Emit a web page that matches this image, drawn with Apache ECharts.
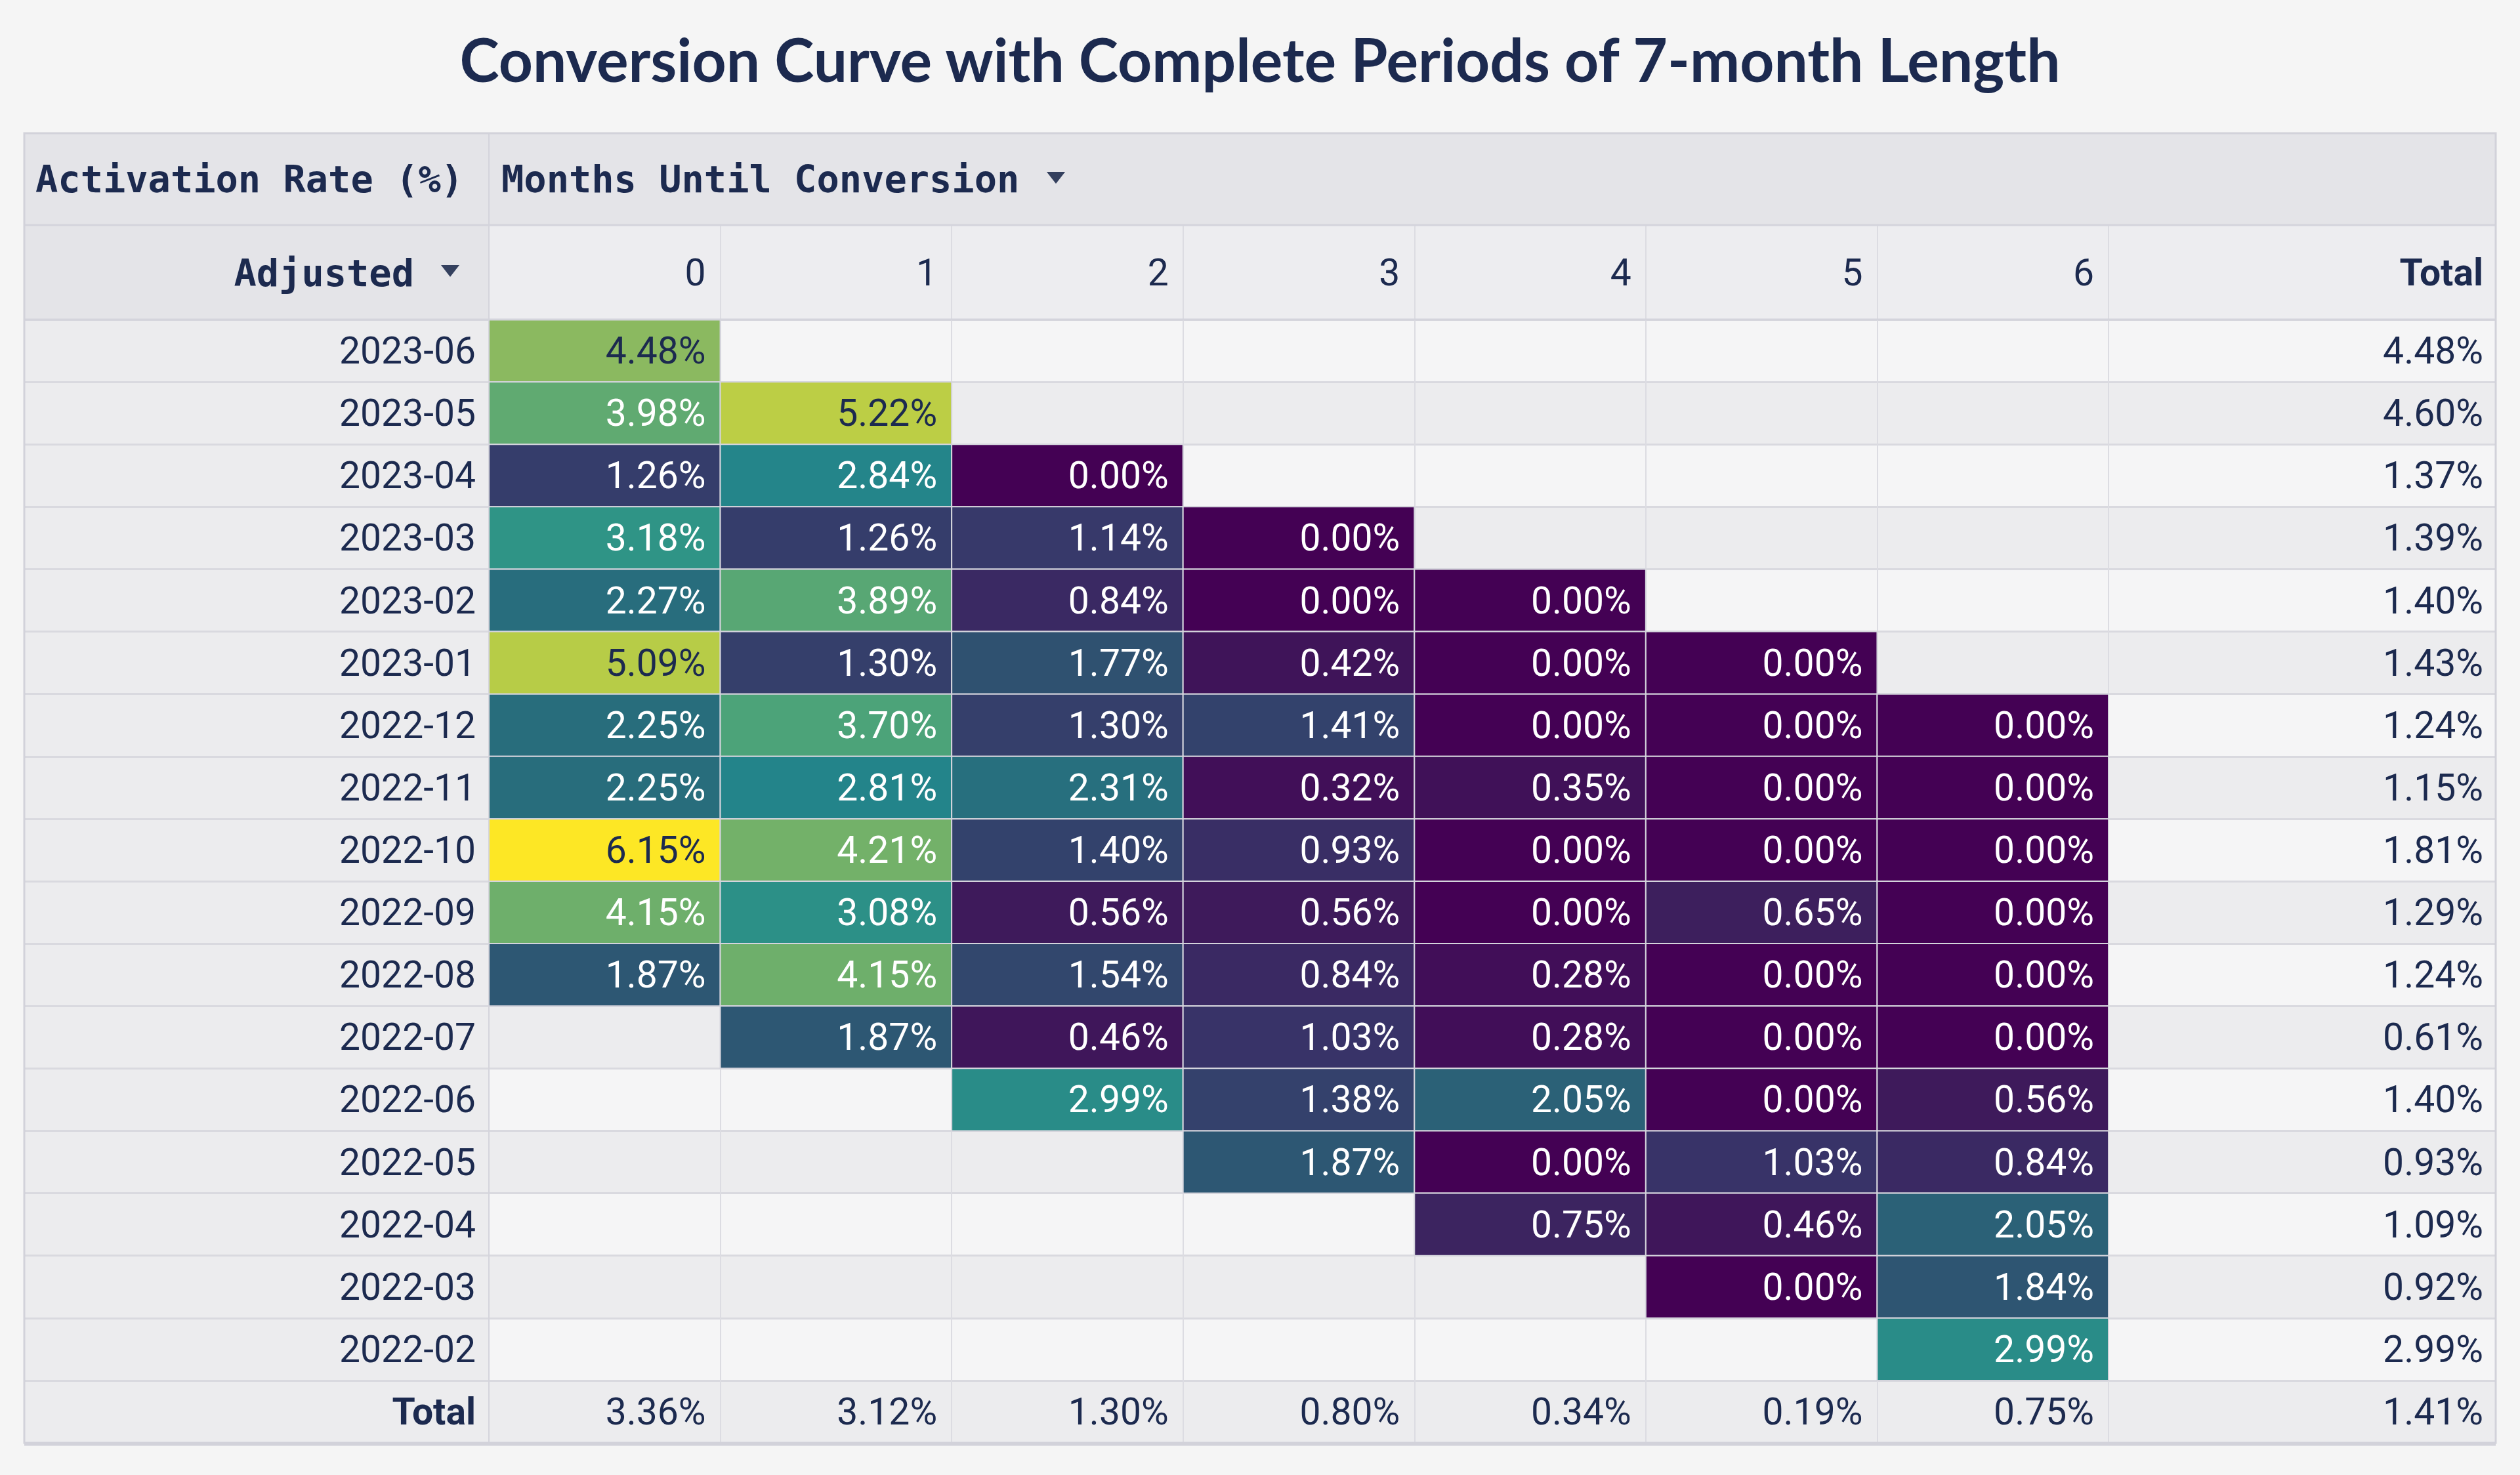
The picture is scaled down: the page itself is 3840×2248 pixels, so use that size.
<!DOCTYPE html>
<html>
<head>
<meta charset="utf-8">
<title>Conversion Curve</title>
<script src="https://cdn.jsdelivr.net/npm/echarts@6/dist/echarts.min.js"></script>
<style>
  html, body { margin: 0; padding: 0; background: #f5f5f5; }
  #chart { width: 3840px; height: 2248px; }
</style>
</head>
<body>
<div id="chart"></div>
<script>
// cohorts, top to bottom
const cohorts = ['2023-06', '2023-05', '2023-04', '2023-03', '2023-02', '2023-01', '2022-12',
  '2022-11', '2022-10', '2022-09', '2022-08', '2022-07', '2022-06', '2022-05', '2022-04',
  '2022-03', '2022-02'];
const months = ['0', '1', '2', '3', '4', '5', '6'];

// activation rate (%) per cohort and month until conversion, null = no cell
const rates = [
  [4.48, null, null, null, null, null, null],
  [3.98, 5.22, null, null, null, null, null],
  [1.26, 2.84, 0.00, null, null, null, null],
  [3.18, 1.26, 1.14, 0.00, null, null, null],
  [2.27, 3.89, 0.84, 0.00, 0.00, null, null],
  [5.09, 1.30, 1.77, 0.42, 0.00, 0.00, null],
  [2.25, 3.70, 1.30, 1.41, 0.00, 0.00, 0.00],
  [2.25, 2.81, 2.31, 0.32, 0.35, 0.00, 0.00],
  [6.15, 4.21, 1.40, 0.93, 0.00, 0.00, 0.00],
  [4.15, 3.08, 0.56, 0.56, 0.00, 0.65, 0.00],
  [1.87, 4.15, 1.54, 0.84, 0.28, 0.00, 0.00],
  [null, 1.87, 0.46, 1.03, 0.28, 0.00, 0.00],
  [null, null, 2.99, 1.38, 2.05, 0.00, 0.56],
  [null, null, null, 1.87, 0.00, 1.03, 0.84],
  [null, null, null, null, 0.75, 0.46, 2.05],
  [null, null, null, null, null, 0.00, 1.84],
  [null, null, null, null, null, null, 2.99]
];
const cohortTotals = [4.48, 4.60, 1.37, 1.39, 1.40, 1.43, 1.24, 1.15, 1.81, 1.29, 1.24, 0.61,
  1.40, 0.93, 1.09, 0.92, 2.99];
const monthTotals = [3.36, 3.12, 1.30, 0.80, 0.34, 0.19, 0.75];
const grandTotal = 1.41;

const palette = ['#440154', '#3e1a5b', '#37386a', '#304c6e', '#286c7c', '#23838a', '#359c84',
  '#5aa873', '#8ab960', '#b4cb48', '#cdd43e', '#fde725'];

const navy = '#1c2a4f';
const rowLabels = cohorts.concat(['Total']);

// table layout
const L = 37, R = 3803, RH = 745, DR = 3213;
const H1 = 203, H2 = 343, B = 487, BOT = 2199;
const colW = (DR - RH) / months.length;
const lineC = '#d9d9df';
const fs = 57;

const cellData = [];
rates.forEach((row, r) => row.forEach((v, c) => {
  if (v !== null) cellData.push([c, r, v]);
}));
const totalRowData = monthTotals.map((v, c) => [c, cohorts.length, v]);
const totalColData = cohortTotals.concat([grandTotal]).map((v, r) => [0, r, v]);

function cellRenderer(colored, pad) {
  return function (params, api) {
    const v = api.value(2);
    const c = api.coord([api.value(0), api.value(1)]);
    const s = api.size([1, 1]);
    const x0 = c[0] - s[0] / 2, y0 = c[1] - s[1] / 2;
    const children = [];
    let color = navy;
    if (colored) {
      children.push({
        type: 'rect',
        shape: { x: x0, y: y0, width: s[0], height: s[1] },
        style: { fill: api.visual('color'), stroke: '#d4d4dc', lineWidth: 2 }
      });
      color = v >= 4.4 ? navy : '#ffffff';
    }
    children.push({
      type: 'text',
      style: {
        text: v.toFixed(2) + '%', x: x0 + s[0] - pad, y: c[1],
        align: 'right', verticalAlign: 'middle',
        fill: color, fontFamily: 'Roboto', fontSize: fs
      }
    });
    return { type: 'group', children: children };
  };
}

function hidden(extra) {
  return Object.assign({
    axisLine: { show: false }, axisTick: { show: false }, axisLabel: { show: false }
  }, extra);
}

const stripes = { show: true, areaStyle: { color: ['#f5f5f6', '#ececee'] } };
const hLines = { show: true, lineStyle: { color: lineC, width: 3 } };
const vLines = { show: true, lineStyle: { color: '#dcdce2', width: 2 } };

const option = {
  backgroundColor: '#f5f5f5',
  animation: false,
  title: {
    text: 'Conversion Curve with Complete Periods of 7-month Length',
    left: 'center', top: 39,
    textStyle: { fontFamily: 'Lato', fontWeight: 'bold', fontSize: 91, color: navy }
  },
  grid: [
    // 0: row header column
    { left: L, top: B, width: RH - L, height: BOT - B, outerBoundsMode: 'none' },
    // 1: data cells
    { left: RH, top: B, width: DR - RH, height: BOT - B, outerBoundsMode: 'none' },
    // 2: total column
    { left: DR, top: B, width: R - DR, height: BOT - B, outerBoundsMode: 'none' },
    // 3: month header
    { left: RH, top: H2, width: DR - RH, height: B - H2, outerBoundsMode: 'none' },
    // 4: total header
    { left: DR, top: H2, width: R - DR, height: B - H2, outerBoundsMode: 'none' }
  ],
  xAxis: [
    hidden({ gridIndex: 0, type: 'category', data: [''], splitLine: { show: false } }),
    hidden({ gridIndex: 1, type: 'category', data: months, splitLine: vLines }),
    hidden({ gridIndex: 2, type: 'category', data: ['Total'], splitLine: vLines }),
    {
      gridIndex: 3, type: 'category', data: months, position: 'bottom',
      axisLine: { show: false }, axisTick: { show: false },
      splitLine: vLines,
      splitArea: { show: true, areaStyle: { color: ['#ededf0'] } },
      axisLabel: {
        inside: true, margin: 72, verticalAlign: 'middle', align: 'center',
        fontFamily: 'Roboto', fontSize: fs, color: navy,
        formatter: v => '{r|' + v + '}',
        rich: { r: { width: colW - 44, align: 'right', fontFamily: 'Roboto', fontSize: fs, color: navy } }
      }
    },
    {
      gridIndex: 4, type: 'category', data: ['Total'], position: 'bottom',
      axisLine: { show: false }, axisTick: { show: false },
      splitLine: vLines,
      splitArea: { show: true, areaStyle: { color: ['#ededf0'] } },
      axisLabel: {
        inside: true, margin: 72, verticalAlign: 'middle', align: 'center',
        fontFamily: 'Roboto', fontSize: fs, color: navy,
        formatter: v => '{r|' + v + '}',
        rich: { r: { width: R - DR - 38, align: 'right', fontFamily: 'Roboto', fontWeight: 'bold', fontSize: fs, color: navy } }
      }
    }
  ],
  yAxis: [
    {
      gridIndex: 0, type: 'category', data: rowLabels, inverse: true, position: 'right',
      axisLine: { show: false }, axisTick: { show: false },
      splitLine: hLines,
      splitArea: { show: true, areaStyle: { color: ['#ececee'] } },
      axisLabel: {
        inside: true, margin: 20, fontFamily: 'Roboto', fontSize: fs, color: navy,
        formatter: v => v === 'Total' ? '{b|Total}' : v,
        rich: { b: { fontFamily: 'Roboto', fontWeight: 'bold', fontSize: fs, color: navy } }
      }
    },
    hidden({ gridIndex: 1, type: 'category', data: rowLabels, inverse: true, splitLine: hLines, splitArea: stripes }),
    hidden({ gridIndex: 2, type: 'category', data: rowLabels, inverse: true, splitLine: hLines, splitArea: stripes }),
    hidden({ gridIndex: 3, type: 'category', data: [''], splitLine: { show: false } }),
    hidden({ gridIndex: 4, type: 'category', data: [''], splitLine: { show: false } })
  ],
  visualMap: {
    type: 'continuous', show: false, seriesIndex: 0, dimension: 2,
    min: 0, max: 6.15, inRange: { color: palette }
  },
  series: [
    { type: 'custom', xAxisIndex: 1, yAxisIndex: 1, data: cellData, renderItem: cellRenderer(true, 22), z: 5 },
    { type: 'custom', xAxisIndex: 1, yAxisIndex: 1, data: totalRowData, renderItem: cellRenderer(false, 22), z: 5 },
    { type: 'custom', xAxisIndex: 2, yAxisIndex: 2, data: totalColData, renderItem: cellRenderer(false, 19), z: 5 }
  ],
  graphic: [
    { type: 'rect', z: -1, shape: { x: L, y: H1, width: R - L, height: H2 - H1 }, style: { fill: '#e4e4e8' } },
    { type: 'rect', z: -1, shape: { x: L, y: H2, width: RH - L, height: B - H2 }, style: { fill: '#e4e4e8' } },
    { type: 'line', z: 50, shape: { x1: RH, y1: H1, x2: RH, y2: BOT }, style: { stroke: '#d4d4dc', lineWidth: 2 } },
    { type: 'line', z: 50, shape: { x1: L, y1: H2, x2: R, y2: H2 }, style: { stroke: '#d4d4dc', lineWidth: 3 } },
    { type: 'line', z: 50, shape: { x1: L, y1: B, x2: R, y2: B }, style: { stroke: '#d4d4dc', lineWidth: 3 } },
    { type: 'rect', z: 60, shape: { x: L, y: H1, width: R - L, height: BOT - H1 }, style: { fill: null, stroke: '#d2d2da', lineWidth: 3 } },
    { type: 'line', z: 60, shape: { x1: L, y1: BOT + 2, x2: R, y2: BOT + 2 }, style: { stroke: '#d2d2da', lineWidth: 5 } },
    {
      type: 'text', z: 70, x: 54, y: 273,
      style: { text: 'Activation Rate (%)', fontFamily: 'DejaVu Sans Mono', fontWeight: 'bold', fontSize: 57, fill: navy, align: 'left', verticalAlign: 'middle' }
    },
    {
      type: 'text', z: 70, x: 764, y: 273,
      style: { text: 'Months Until Conversion', fontFamily: 'DejaVu Sans Mono', fontWeight: 'bold', fontSize: 57, fill: navy, align: 'left', verticalAlign: 'middle' }
    },
    { type: 'polygon', z: 70, shape: { points: [[1595, 262], [1623, 262], [1609, 280]] }, style: { fill: '#34405e' } },
    {
      type: 'text', z: 70, x: 631, y: 416,
      style: { text: 'Adjusted', fontFamily: 'DejaVu Sans Mono', fontWeight: 'bold', fontSize: 57, fill: navy, align: 'right', verticalAlign: 'middle' }
    },
    { type: 'polygon', z: 70, shape: { points: [[672, 404], [700, 404], [686, 422]] }, style: { fill: '#34405e' } }
  ]
};

const chart = echarts.init(document.getElementById('chart'), null, { renderer: 'svg' });
chart.setOption(option);
</script>
</body>
</html>
